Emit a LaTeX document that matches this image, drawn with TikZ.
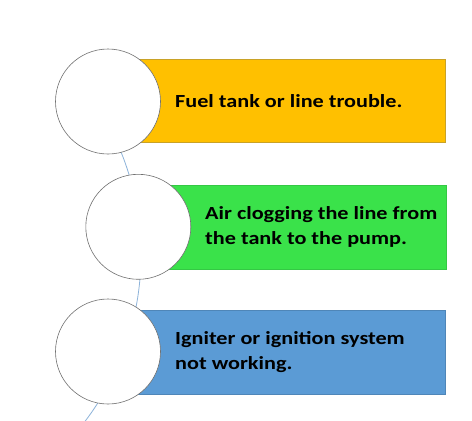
\documentclass[tikz,border=0pt]{standalone}
\usepackage{fontspec}
\setmainfont{Carlito}[FakeStretch=1.2]
\definecolor{orng}{HTML}{FFC000}
\definecolor{orngb}{HTML}{C9A227}
\definecolor{grn}{HTML}{3AE24A}
\definecolor{grnb}{HTML}{34C844}
\definecolor{blu}{HTML}{5B9BD5}
\definecolor{blub}{HTML}{4F86B8}
\definecolor{arcc}{HTML}{8DB3DA}
\definecolor{circb}{HTML}{707070}
\begin{document}
\begin{tikzpicture}[x=1pt,y=-1pt,
  bar/.style={line width=0.6pt},
  disc/.style={circle,draw=circb,fill=white,line width=0.6pt,minimum size=105pt,inner sep=0pt},
  lbl/.style={anchor=west,align=left,font=\fontsize{18.5}{25}\selectfont\bfseries,inner sep=0pt,text=black}]
\useasboundingbox (0,0) rectangle (472,421);
\fill[white] (0,0) rectangle (472,421);
\draw[arcc,line width=0.8pt] (-134,255) ++(46:275) arc[start angle=46,end angle=-37,radius=275];
\draw[bar,fill=orng,draw=orngb] (108,59.3) rectangle (445.5,142.7);
\draw[bar,fill=grn,draw=grnb] (138,185) rectangle (446,269);
\draw[bar,fill=blu,draw=blub] (108,310) rectangle (445.5,394.3);
\node[disc] (c1) at (108,101.5) {};
\node[disc] (c2) at (138.3,226.8) {};
\node[disc] (c3) at (108,351.5) {};
\node[lbl] (t1) at (175,101.5) {Fuel tank or line trouble.};
\node[lbl] (t2) at (205,227) {Air clogging the line from\\the tank to the pump.};
\node[lbl] (t3) at (175,352) {Igniter or ignition system\\not working.};
\end{tikzpicture}
\end{document}
